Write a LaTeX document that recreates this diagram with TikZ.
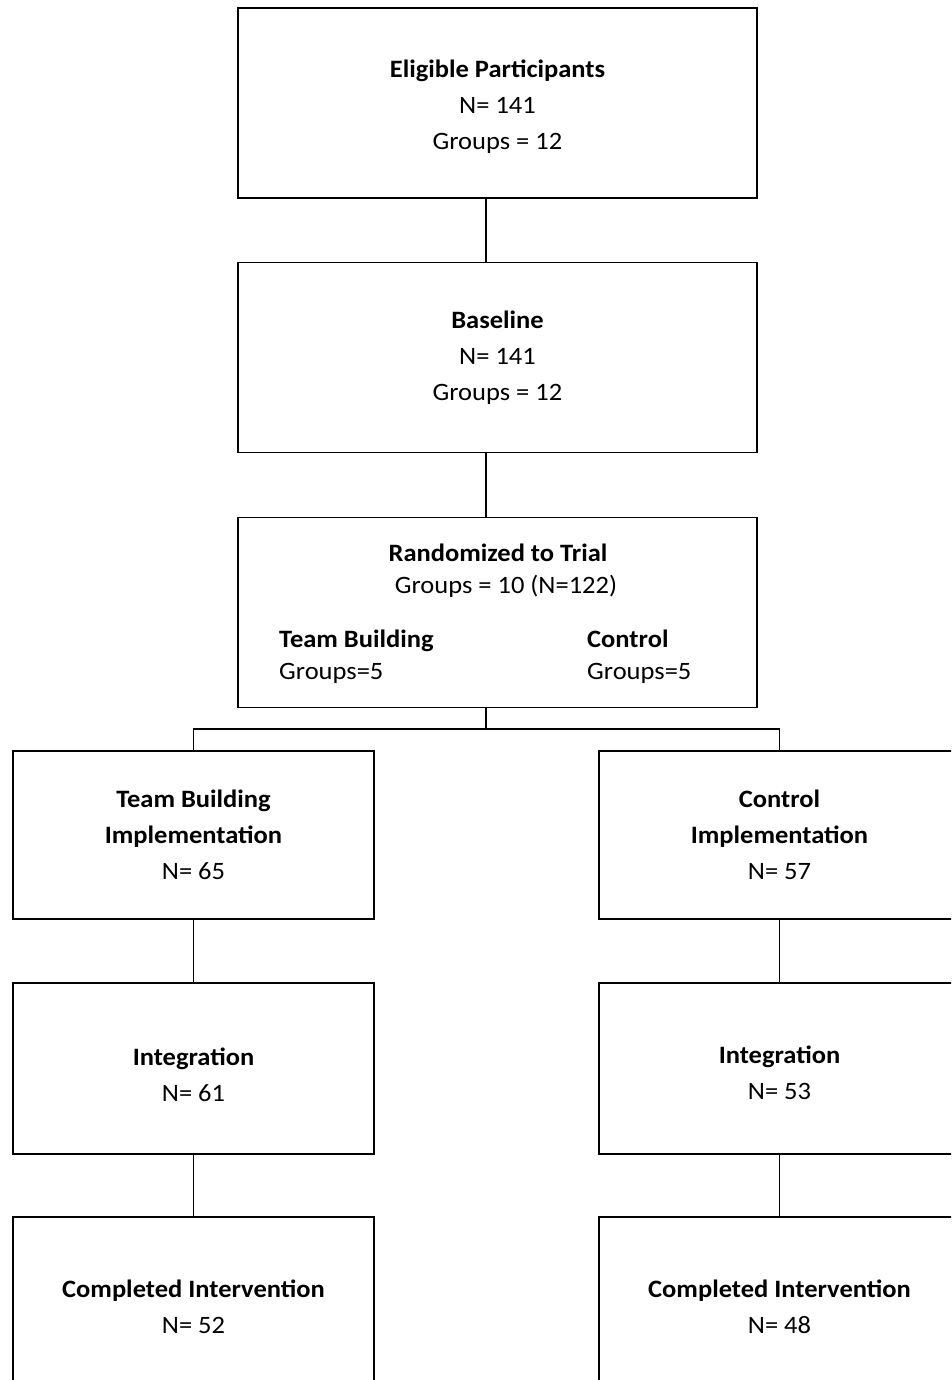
\documentclass[tikz,border=0pt]{standalone}
\usepackage{fontspec}
\setmainfont{Carlito}[FakeStretch=1.06]

% invisible strut to push a box's text a little lower
\newcommand{\topgap}[1]{\rule{0pt}{#1}}

\begin{document}
\begin{tikzpicture}[x=1pt, y=1pt,
    main/.style = {draw, line width=1.3pt, align=center, inner sep=0pt,
                   font=\fontsize{25}{36}\selectfont},
    txt/.style = {inner sep=0pt, font=\fontsize{25}{30}\selectfont},
    bar/.style = {line width=1.3pt}]

        \useasboundingbox (0,0) rectangle (951,-1380);
        \clip (0,0) rectangle (951,-1380);

        % central column
        \node[main, minimum width=519pt, minimum height=190pt, xshift=497.5pt, yshift=-103pt] (elig) {\topgap{26pt}\textbf{Eligible Participants}\\N= 141\\Groups = 12};
        \node[main, minimum width=519pt, minimum height=190pt, xshift=497.5pt, yshift=-357.5pt] (base) {\textbf{Baseline}\\N= 141\\Groups = 12};
        \node[main, minimum width=519pt, minimum height=190pt, xshift=497.5pt, yshift=-612.5pt] (rand) {};

        \node[txt, anchor=base] (randtitle) at (498,-561) {\textbf{Randomized to Trial}};
        \node[txt, anchor=base] (randn) at (506,-593) {Groups = 10 (N=122)};
        \node[txt, anchor=base west] (tbhead) at (279,-647) {\textbf{Team Building}};
        \node[txt, anchor=base west] (tbgroups) at (279,-679) {Groups=5};
        \node[txt, anchor=base west] (cthead) at (587,-647) {\textbf{Control}};
        \node[txt, anchor=base west] (ctgroups) at (587,-679) {Groups=5};

        % team building arm
        \node[main, minimum width=361pt, minimum height=168pt, xshift=193.5pt, yshift=-835pt] (tbimp) {\textbf{Team Building}\\\textbf{Implementation}\\N= 65};
        \node[main, minimum width=361pt, minimum height=171pt, xshift=193.5pt, yshift=-1068.5pt] (tbint) {\topgap{30pt}\textbf{Integration}\\N= 61};
        \node[main, minimum width=361pt, minimum height=180pt, xshift=193.5pt, yshift=-1307pt] (tbdone) {\textbf{Completed Intervention}\\N= 52};

        % control arm
        \node[main, minimum width=361pt, minimum height=168pt, xshift=779.5pt, yshift=-835pt] (ctimp) {\textbf{Control}\\\textbf{Implementation}\\N= 57};
        \node[main, minimum width=361pt, minimum height=171pt, xshift=779.5pt, yshift=-1068.5pt] (ctint) {\topgap{26pt}\textbf{Integration}\\N= 53};
        \node[main, minimum width=361pt, minimum height=180pt, xshift=779.5pt, yshift=-1307pt] (ctdone) {\textbf{Completed Intervention}\\N= 48};

        \coordinate (spine) at (486,0);
        \coordinate (split) at (486,-729);

        \draw[bar] (elig.south -| spine) -- (base.north -| spine);
        \draw[bar] (base.south -| spine) -- (rand.north -| spine);
        \draw[bar] (rand.south -| spine) -- (split);
        \draw[bar] (tbimp.north) |- (split) -| (ctimp.north);
        \draw[bar] (tbimp) -- (tbint);
        \draw[bar] (tbint) -- (tbdone);
        \draw[bar] (ctimp) -- (ctint);
        \draw[bar] (ctint) -- (ctdone);

\end{tikzpicture}
\end{document}
